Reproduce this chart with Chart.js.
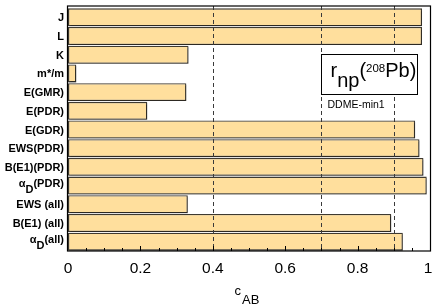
<!DOCTYPE html>
<html>
<head>
<meta charset="utf-8">
<script src="https://cdn.jsdelivr.net/npm/chart.js@4"></script>
<style>
  body { margin: 0; background: #fff; }
  canvas { display: block; }
</style>
</head>
<body>
<canvas id="myChart" width="436" height="308"></canvas>
<script>
// data
const categories = ["J", "L", "K", "m*/m", "E(GMR)", "E(PDR)", "E(GDR)", "EWS(PDR)",
  "B(E1)(PDR)", "α_D(PDR)", "EWS (all)", "B(E1) (all)", "α_D(all)"];
const cValues = [0.978, 0.978, 0.333, 0.023, 0.327, 0.219, 0.959, 0.971,
  0.982, 0.991, 0.331, 0.893, 0.925];
const xTicks = [0, 0.2, 0.4, 0.6, 0.8, 1];
const dashedAt = [0.4, 0.7, 0.9];

const FONT = '"Liberation Sans", Arial, Helvetica, sans-serif';

const ctx = document.getElementById("myChart");

// little shadow under each bar
const barShadow = {
  id: "barShadow",
  beforeDatasetsDraw(chart) {
    const c = chart.ctx;
    c.save();
    c.shadowColor = "rgba(0,0,0,0.28)";
    c.shadowOffsetX = 1;
    c.shadowOffsetY = 1.5;
    c.shadowBlur = 0;
  },
  afterDatasetsDraw(chart) {
    chart.ctx.restore();
  }
};

const decorations = {
  id: "decorations",
  afterDatasetsDraw(chart) {
    const c = chart.ctx;
    const area = chart.chartArea;
    const xs = chart.scales.x;
    const ys = chart.scales.y;
    const top = area.top - 2;
    const bottom = area.bottom;

    c.save();
    // dashed reference lines
    c.strokeStyle = "#3a3a3a";
    c.lineWidth = 1;
    c.setLineDash([4, 3]);
    dashedAt.forEach(v => {
      const x = Math.round(xs.getPixelForValue(v)) + 0.5;
      c.beginPath();
      c.moveTo(x, top);
      c.lineTo(x, bottom);
      c.stroke();
    });
    c.setLineDash([]);

    // frame
    c.strokeStyle = "#000";
    c.lineWidth = 1.2;
    c.strokeRect(area.left - 0.5, top, area.right - area.left + 1, bottom - top);

    // ticks on bottom axis
    c.lineWidth = 1;
    for (let i = 1; i < 20; i++) {
      const v = i * 0.05;
      const x = Math.round(xs.getPixelForValue(v)) + 0.5;
      const len = (i % 4 === 0) ? 5 : 3;
      c.beginPath();
      c.moveTo(x, bottom);
      c.lineTo(x, bottom - len);
      c.stroke();
    }

    // x tick labels
    c.fillStyle = "#000";
    c.font = "15.5px " + FONT;
    c.textAlign = "center";
    c.textBaseline = "middle";
    xTicks.forEach(v => {
      let x = xs.getPixelForValue(v);
      if (v === 1) x -= 2;
      c.fillText(String(v), x, 269);
    });

    // x axis title c_AB
    c.textAlign = "left";
    c.textBaseline = "alphabetic";
    c.font = "13px " + FONT;
    c.fillText("c", 234.5, 295);
    c.fillText("AB", 242, 304);

    // y labels
    c.font = "bold 11px " + FONT;
    c.textBaseline = "middle";
    categories.forEach((lab, i) => {
      const y = ys.getPixelForValue(i);
      const right = 64;
      if (lab.indexOf("_") >= 0) {
        const pre = lab.split("_")[0];
        const sub = lab.split("_")[1].charAt(0);
        const post = lab.split("_")[1].slice(1);
        const wPre = c.measureText(pre).width;
        const wSub = c.measureText(sub).width;
        const wPost = c.measureText(post).width;
        let x = right - wPre - wSub - wPost;
        c.textAlign = "left";
        c.fillText(pre, x, y - 2);
        c.fillText(sub, x + wPre, y + 4);
        c.fillText(post, x + wPre + wSub, y - 2);
      } else {
        c.textAlign = "right";
        c.fillText(lab, right, y + 1);
      }
    });

    // annotation box
    const bx = Math.round(xs.getPixelForValue(0.7)) + 0.5;
    const bw = 96;
    c.fillStyle = "#fff";
    c.fillRect(bx, 54.5, bw, 40);
    c.strokeStyle = "#000";
    c.lineWidth = 1;
    c.strokeRect(bx, 54.5, bw, 40);

    c.fillStyle = "#000";
    c.textAlign = "left";
    c.textBaseline = "alphabetic";
    let tx = bx + 9;
    c.font = "20px " + FONT;
    c.fillText("r", tx, 77);
    tx += c.measureText("r").width;
    c.fillText("np", tx, 87);
    tx += c.measureText("np").width;
    c.fillText("(", tx, 77);
    tx += c.measureText("(").width;
    c.font = "11.5px " + FONT;
    c.fillText("208", tx, 72);
    tx += c.measureText("208").width;
    c.font = "20px " + FONT;
    c.fillText("Pb)", tx, 77);

    c.font = "10.5px " + FONT;
    c.fillText("DDME-min1", bx + 6, 108);
    c.restore();
  }
};

new Chart(ctx, {
  type: "bar",
  data: {
    labels: categories,
    datasets: [
      {
        data: cValues,
        backgroundColor: "#ffdf9d",
        borderColor: "#3f3a30",
        borderWidth: 1.3,
        borderSkipped: false,
        barPercentage: 0.96,
        categoryPercentage: 1
      }
    ]
  },
  options: {
    indexAxis: "y",
    responsive: false,
    animation: false,
    devicePixelRatio: 1,
    layout: { padding: { left: 68, right: 6, top: 8, bottom: 57 } },
    plugins: { legend: { display: false }, tooltip: { enabled: false } },
    scales: {
      x: { type: "linear", min: 0, max: 1, display: false },
      y: { display: false }
    }
  },
  plugins: [barShadow, decorations]
});
</script>
</body>
</html>
